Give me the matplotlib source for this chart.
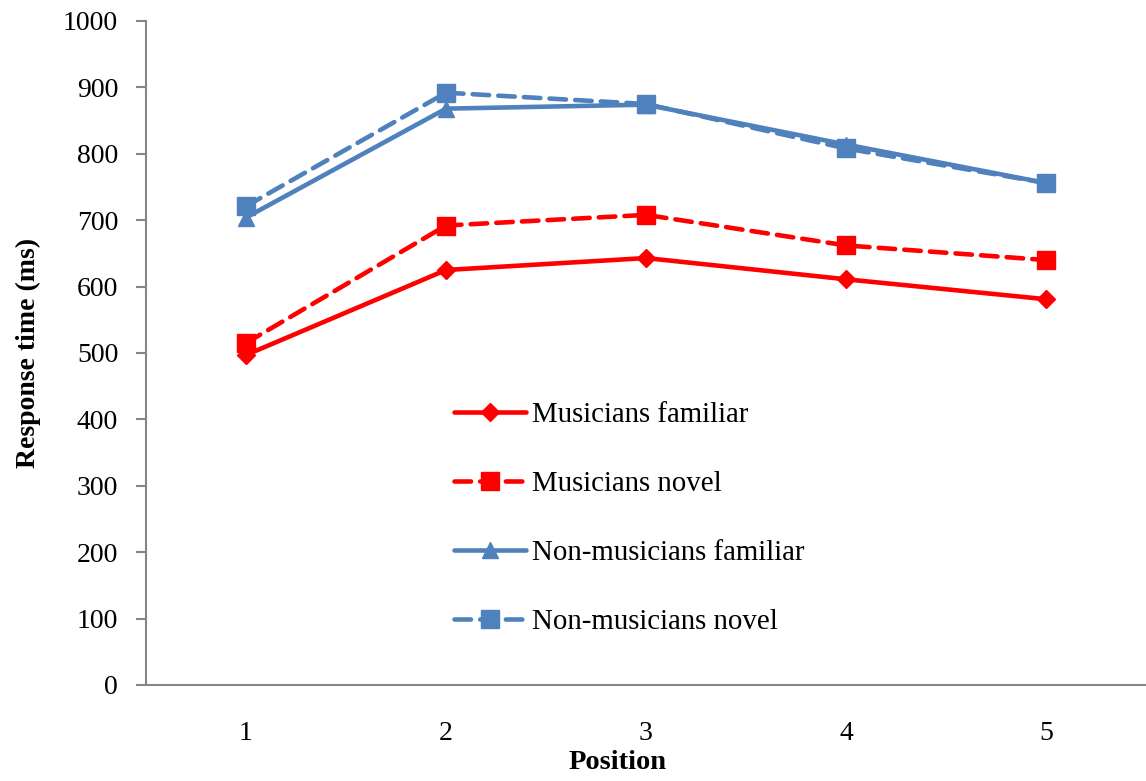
import matplotlib
matplotlib.use("Agg")
import matplotlib.pyplot as plt

# -------------------------------------------------
# DATA
# -------------------------------------------------
positions = [1, 2, 3, 4, 5]
musicians_familiar = [497, 625, 643, 611, 581]
musicians_novel = [515, 692, 708, 662, 640]
nonmusicians_familiar = [704, 868, 874, 814, 756]
nonmusicians_novel = [721, 892, 875, 808, 756]

RED = "#FF0000"
BLUE = "#4F81BD"
AXIS_GREY = "#868686"

plt.rcParams["font.family"] = ["Liberation Serif", "DejaVu Serif"]

fig = plt.figure(figsize=(11.46, 7.81), dpi=100)
ax = fig.add_axes([146 / 1146, 1 - 685 / 781, 1 - 146 / 1146, (685 - 21) / 781])

dash = (3.6, 2.0)
ax.plot(positions, musicians_familiar, color=RED, lw=3.3, marker="D",
        markersize=9.5, label="Musicians familiar", solid_capstyle="round")
ax.plot(positions, musicians_novel, color=RED, lw=3.3, marker="s",
        markersize=13, linestyle=(0, dash), dash_capstyle="round",
        label="Musicians novel")
ax.plot(positions, nonmusicians_familiar, color=BLUE, lw=3.3, marker="^",
        markersize=12, label="Non-musicians familiar", solid_capstyle="round")
ax.plot(positions, nonmusicians_novel, color=BLUE, lw=3.3, marker="s",
        markersize=13, linestyle=(0, dash), dash_capstyle="round",
        label="Non-musicians novel")

ax.set_xlim(0.5, 5.5)
ax.set_ylim(0, 1000)
ax.set_xticks(positions)
ax.set_yticks(range(0, 1001, 100))

for side in ("top", "right"):
    ax.spines[side].set_visible(False)
for side in ("left", "bottom"):
    ax.spines[side].set_color(AXIS_GREY)
    ax.spines[side].set_linewidth(1.5)

ax.tick_params(axis="y", direction="out", length=7, width=1.5,
               color=AXIS_GREY, labelsize=20, pad=13)
ax.tick_params(axis="x", length=0, labelsize=20, pad=26)

ax.set_xlabel("Position", fontsize=20.5, fontweight="bold")
ax.xaxis.set_label_coords((618 - 146) / 1000, (685 - 775) / 664)
ax.xaxis.label.set_va("bottom")
ax.set_ylabel("Response time (ms)", fontsize=20, fontweight="bold")
ax.yaxis.set_label_coords((28 - 146) / 1000, 0.5)
ax.yaxis.label.set_va("center")

leg = ax.legend(loc="upper left", bbox_to_anchor=(454 / 1146, 1 - 402 / 781),
                bbox_transform=fig.transFigure, frameon=False, fontsize=20.8,
                handlelength=2.5, handletextpad=0.2, labelspacing=1.48,
                borderpad=0, borderaxespad=0)

fig.savefig("out.png", dpi=100)
